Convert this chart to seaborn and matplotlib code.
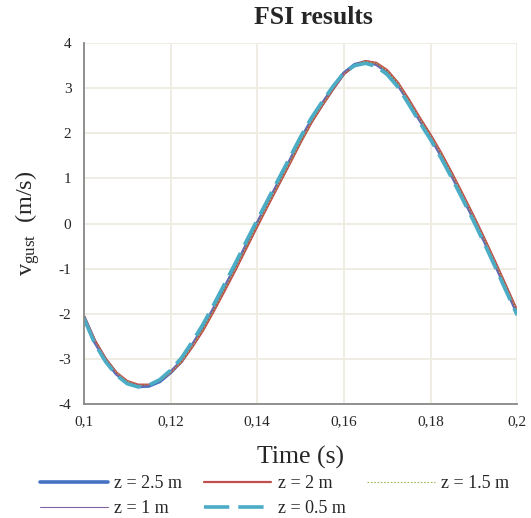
import matplotlib
matplotlib.use('Agg')
import matplotlib.pyplot as plt
import matplotlib.ticker as mticker
import seaborn as sns
import pandas as pd

# tijdstappen (s)
time = [0.1000, 0.1025, 0.1050, 0.1075, 0.1100, 0.1125, 0.1150, 0.1175, 0.1200, 0.1225,
        0.1250, 0.1275, 0.1300, 0.1325, 0.1350, 0.1375, 0.1400, 0.1425, 0.1450, 0.1475,
        0.1500, 0.1525, 0.1550, 0.1575, 0.1600, 0.1625, 0.1650, 0.1675, 0.1700, 0.1725,
        0.1750, 0.1775, 0.1800, 0.1825, 0.1850, 0.1875, 0.1900, 0.1925, 0.1950, 0.1975,
        0.2000]

z25 = [-2.07, -2.62, -3.02, -3.33, -3.52, -3.61, -3.60, -3.50, -3.30, -3.05,
       -2.70, -2.32, -1.88, -1.42, -0.96, -0.48, 0.00, 0.46, 0.92, 1.38,
       1.85, 2.28, 2.65, 3.00, 3.33, 3.52, 3.58, 3.53, 3.36, 3.08,
       2.70, 2.30, 1.92, 1.50, 1.05, 0.58, 0.10, -0.40, -0.92, -1.45,
       -1.98]
z20 = [-2.05, -2.58, -2.99, -3.30, -3.49, -3.57, -3.57, -3.48, -3.30, -3.07,
       -2.74, -2.37, -1.94, -1.49, -1.03, -0.55, -0.07, 0.40, 0.86, 1.32,
       1.79, 2.23, 2.61, 2.97, 3.31, 3.51, 3.60, 3.56, 3.40, 3.12,
       2.75, 2.35, 1.97, 1.56, 1.11, 0.64, 0.16, -0.34, -0.86, -1.39,
       -1.93]
z15 = [-2.06, -2.60, -3.00, -3.31, -3.50, -3.59, -3.58, -3.49, -3.30, -3.06,
       -2.72, -2.34, -1.91, -1.45, -0.99, -0.51, -0.03, 0.43, 0.89, 1.35,
       1.82, 2.26, 2.63, 2.99, 3.32, 3.52, 3.59, 3.55, 3.38, 3.10,
       2.72, 2.32, 1.94, 1.53, 1.08, 0.61, 0.13, -0.37, -0.89, -1.42,
       -1.95]
z10 = [-2.08, -2.63, -3.03, -3.34, -3.53, -3.61, -3.59, -3.48, -3.28, -3.02,
       -2.67, -2.28, -1.84, -1.38, -0.92, -0.44, 0.04, 0.50, 0.96, 1.42,
       1.88, 2.31, 2.68, 3.02, 3.34, 3.51, 3.57, 3.51, 3.33, 3.05,
       2.67, 2.27, 1.89, 1.47, 1.02, 0.55, 0.07, -0.43, -0.95, -1.48,
       -2.00]
z05 = [-2.10, -2.66, -3.06, -3.36, -3.55, -3.62, -3.58, -3.46, -3.25, -2.98,
       -2.62, -2.23, -1.79, -1.33, -0.87, -0.39, 0.08, 0.54, 1.00, 1.46,
       1.92, 2.34, 2.70, 3.04, 3.34, 3.50, 3.55, 3.48, 3.30, 3.02,
       2.64, 2.24, 1.86, 1.44, 0.99, 0.52, 0.04, -0.46, -0.98, -1.51,
       -2.03]

xticks = [0.10, 0.12, 0.14, 0.16, 0.18, 0.20]
yticks = [-4, -3, -2, -1, 0, 1, 2, 3, 4]

sns.set_style('white')
plt.rcParams['font.family'] = ['Liberation Serif', 'DejaVu Serif']
plt.rcParams['mathtext.fontset'] = 'custom'
plt.rcParams['mathtext.rm'] = 'Liberation Serif'
plt.rcParams['mathtext.it'] = 'Liberation Serif:italic'
plt.rcParams['axes.unicode_minus'] = False

f, ax = plt.subplots(figsize=(5.31, 5.18), dpi=100)
f.subplots_adjust(left=0.158, right=0.974, top=0.917, bottom=0.22)

# lijnen plotten
series = [
    ('z = 2.5 m', z25, '#4472C4', 2.6, '-'),
    ('z = 2 m', z20, '#C0504D', 1.6, '-'),
    ('z = 1.5 m', z15, '#9BBB59', 0.8, (0, (1.5, 1.5))),
    ('z = 1 m', z10, '#8064A2', 0.8, '-'),
    ('z = 0.5 m', z05, '#4BACC6', 2.6, (0, (7, 2.5))),
]
lines = {}
for name, vals, col, lw, ls in series:
    df = pd.DataFrame({'time': time, 'v': vals})
    sns.lineplot(data=df, x='time', y='v', ax=ax, color=col, linewidth=lw,
                 linestyle=ls, label=name, sort=False)
    lines[name] = ax.get_lines()[-1]

ax.set_xlim(0.1, 0.2)
ax.set_ylim(-4, 4)
ax.set_xticks(xticks)
ax.set_yticks(yticks)
ax.xaxis.set_major_formatter(mticker.FuncFormatter(
    lambda v, p: ('%g' % round(v, 2)).replace('.', ',')))
ax.grid(True, color='#EEEBE1', linewidth=1.3)
ax.set_axisbelow(True)
for s in ['top', 'right']:
    ax.spines[s].set_visible(False)
for s in ['left', 'bottom']:
    ax.spines[s].set_color('#888888')
    ax.spines[s].set_linewidth(1.3)
ax.tick_params(axis='both', length=0, labelsize=11)
ax.tick_params(axis='y', pad=9)
ax.tick_params(axis='x', pad=8)

# titel
f.text(0.591, 1 - 17 / 518, 'FSI results', ha='center', va='center',
       fontsize=18.5, fontweight='bold')
ax.set_xlabel('Time (s)', fontsize=18.5)
ax.xaxis.set_label_coords(0.5, -0.116)
ax.set_ylabel(r'v$_{\mathrm{gust}}$  (m/s)', fontsize=17.5, labelpad=12)

# legenda, volgorde rij voor rij
order = ['z = 2.5 m', 'z = 1 m', 'z = 2 m', 'z = 0.5 m', 'z = 1.5 m']
ax.legend([lines[n] for n in order], order, ncol=3, frameon=False,
          loc='upper left', bbox_to_anchor=(40 / 531, 1 - 475 / 518),
          bbox_transform=f.transFigure, borderpad=0, borderaxespad=0,
          fontsize=13, handlelength=3.75, columnspacing=1.2, labelspacing=0.45,
          handletextpad=0.35)

f.savefig('out.png', dpi=100)
